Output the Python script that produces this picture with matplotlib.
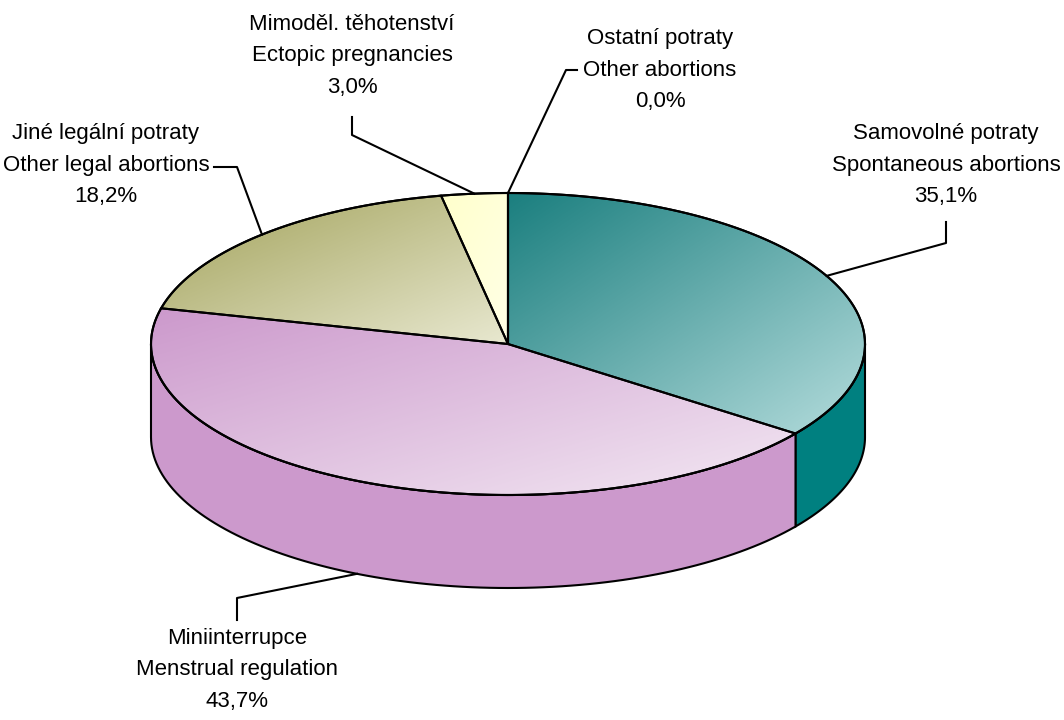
import numpy as np
import matplotlib.pyplot as plt
from matplotlib.patches import Polygon
from matplotlib.colors import LinearSegmentedColormap

# data
labels = ["Samovolné potraty\nSpontaneous abortions",
          "Miniinterrupce\nMenstrual regulation",
          "Jiné legální potraty\nOther legal abortions",
          "Mimoděl. těhotenství\nEctopic pregnancies",
          "Ostatní potraty\nOther abortions"]
values = [35.1, 43.7, 18.2, 3.0, 0.0]

# styles (top gradient dark->light, side colour)
grads = [("#1b7f7f", "#b4dcdc"), ("#cc99cc", "#f3e8f3"),
         ("#a2a25a", "#e8e8d0"), ("#ffffcc", "#ffffe6"), ("#ffffff", "#ffffff")]
sides = ["#008080", "#cc99cc", "#999966", "#ffffcc", "#ffffff"]

# label text centers and leader bends (pixels)
text_pos = [(946, 165), (237, 670), (106, 165), (352, 56), (660, 70)]
bends = [[(946, 243), (946, 222)], [(237, 598), (237, 620)],
         [(237, 167), (214, 167)], [(352, 135), (352, 117)],
         [(566, 70), (577, 70)]]

cx, cy, rx, ry, depth = 508, 344, 357, 151, 93
W, H = 1064, 720

fig = plt.figure(figsize=(W / 100, H / 100), dpi=100)
ax = fig.add_axes([0, 0, 1, 1])
ax.set_xlim(0, W)
ax.set_ylim(H, 0)
ax.axis("off")
font = ["Liberation Sans Narrow", "Liberation Sans", "DejaVu Sans"]


def ell(th, dy=0):
    return cx + rx * np.cos(th), cy - ry * np.sin(th) + dy


total = sum(values)
starts = []
a = 90.0
for v in values:
    starts.append((a, a - 360 * v / total))
    a -= 360 * v / total

# sides (front half only)
for (a0, a1), col in zip(starts, sides):
    for off in (0, 360):
        l2, h2 = max(min(a0, a1) + off, -180), min(max(a0, a1) + off, 0)
        if h2 - l2 <= 0:
            continue
        th = np.radians(np.linspace(l2, h2, 100))
        xt, yt = ell(th)
        xb, yb = ell(th[::-1], depth)
        pts = np.column_stack([np.r_[xt, xb], np.r_[yt, yb]])
        ax.add_patch(Polygon(pts, closed=True, fc=col, ec="black", lw=1.5, zorder=2))

# top faces with gradients
for (a0, a1), (c0, c1), v in zip(starts, grads, values):
    if v <= 0:
        continue
    th = np.radians(np.linspace(a0, a1, 200))
    xs, ys = ell(th)
    xs = np.r_[cx, xs]
    ys = np.r_[cy, ys]
    x0, x1, y0, y1 = xs.min(), xs.max(), ys.min(), ys.max()
    gx, gy = np.meshgrid(np.linspace(0, 1, 200), np.linspace(0, 1, 200))
    t = (gx + gy) / 2
    cmap = LinearSegmentedColormap.from_list("g", [c0, c1])
    im = ax.imshow(t, cmap=cmap, extent=(x0, x1, y1, y0), origin="upper",
                   zorder=3, interpolation="bilinear", aspect="auto")
    poly = Polygon(np.column_stack([xs, ys]), closed=True, fc="none",
                   ec="black", lw=1.5, zorder=4)
    ax.add_patch(poly)
    im.set_clip_path(poly)

# outline of pie
th = np.radians(np.linspace(0, 360, 400))
ax.plot(*ell(th), color="black", lw=1.5, zorder=4)
ax.plot([cx, cx], [cy, cy - ry], color="black", lw=1.5, zorder=4)

# labels and leaders
for (a0, a1), lab, v, tp, bd in zip(starts, labels, values, text_pos, bends):
    mid = np.radians((a0 + a1) / 2)
    px, py = ell(mid)
    if np.sin(mid) < 0:
        py += depth
    xs = [px] + [b[0] for b in bd]
    ys = [py] + [b[1] for b in bd]
    ax.plot(xs, ys, color="black", lw=1.5, zorder=5)
    txt = lab + "\n" + f"{v:.1f}".replace(".", ",") + "%"
    ax.text(tp[0], tp[1], txt, ha="center", va="center", fontsize=16,
            family=font, linespacing=1.65, zorder=6)

fig.savefig("out.png", dpi=100, facecolor="white")
